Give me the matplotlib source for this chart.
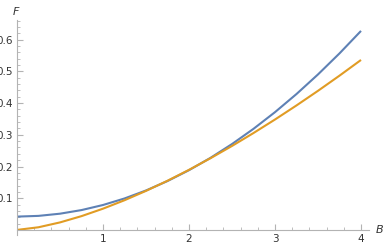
import numpy as np
import matplotlib
matplotlib.use('Agg')
import matplotlib.pyplot as plt
from matplotlib.ticker import MultipleLocator

# values
B = [0, 0.25, 0.5, 0.75, 1, 1.25, 1.5, 1.75, 2, 2.25, 2.5, 2.75, 3, 3.25, 3.5, 3.75, 4]
F_blue = [0.042, 0.0443, 0.0512, 0.0626, 0.0786, 0.0992, 0.1244, 0.1541, 0.1884,
          0.2273, 0.2708, 0.3188, 0.3714, 0.4286, 0.4904, 0.5567, 0.6276]
F_orange = [0.0, 0.0084, 0.0237, 0.0435, 0.067, 0.0936, 0.1231, 0.1551, 0.1895,
            0.2261, 0.2648, 0.3056, 0.3482, 0.3926, 0.4387, 0.4865, 0.536]
x_ticks = [1, 2, 3, 4]
y_ticks = [0.1, 0.2, 0.3, 0.4, 0.5, 0.6]

fig = plt.figure(figsize=(3.85, 2.49), dpi=100)
ax = fig.add_axes([17/385, 1 - 235/249, (369 - 17)/385, (235 - 20)/249])

ax.plot(B, F_blue, color='#5E81B5', lw=1.5, solid_capstyle='butt')
ax.plot(B, F_orange, color='#E19C24', lw=1.5, solid_capstyle='butt')

ax.set_xlim(0, 4.093)
ax.set_ylim(-0.016, 0.662)

axcol = '#b3b3b3'
for s in ['top', 'right']:
    ax.spines[s].set_visible(False)
ax.spines['bottom'].set_position(('data', 0))
ax.spines['left'].set_position(('data', 0))
for s in ['bottom', 'left']:
    ax.spines[s].set_color(axcol)
    ax.spines[s].set_linewidth(0.8)

ax.set_xticks(x_ticks)
ax.set_yticks(y_ticks)
ax.set_yticklabels([str(v) for v in y_ticks])
ax.xaxis.set_minor_locator(MultipleLocator(0.2))
ax.yaxis.set_minor_locator(MultipleLocator(0.02))
ax.tick_params(which='major', direction='in', length=4, width=0.8, color=axcol,
               labelsize=7.5, labelcolor='#333333', pad=3)
ax.tick_params(which='minor', direction='in', length=2.5, width=0.6, color=axcol)
ax.set_facecolor('white')

fig.text(16/385, 1 - 12/249, 'F', style='italic', fontsize=8, color='#333333',
         ha='center', va='center')
fig.text(380/385, 1 - 230/249, 'B', style='italic', fontsize=8, color='#333333',
         ha='center', va='center')

fig.savefig('out.png', dpi=100)
